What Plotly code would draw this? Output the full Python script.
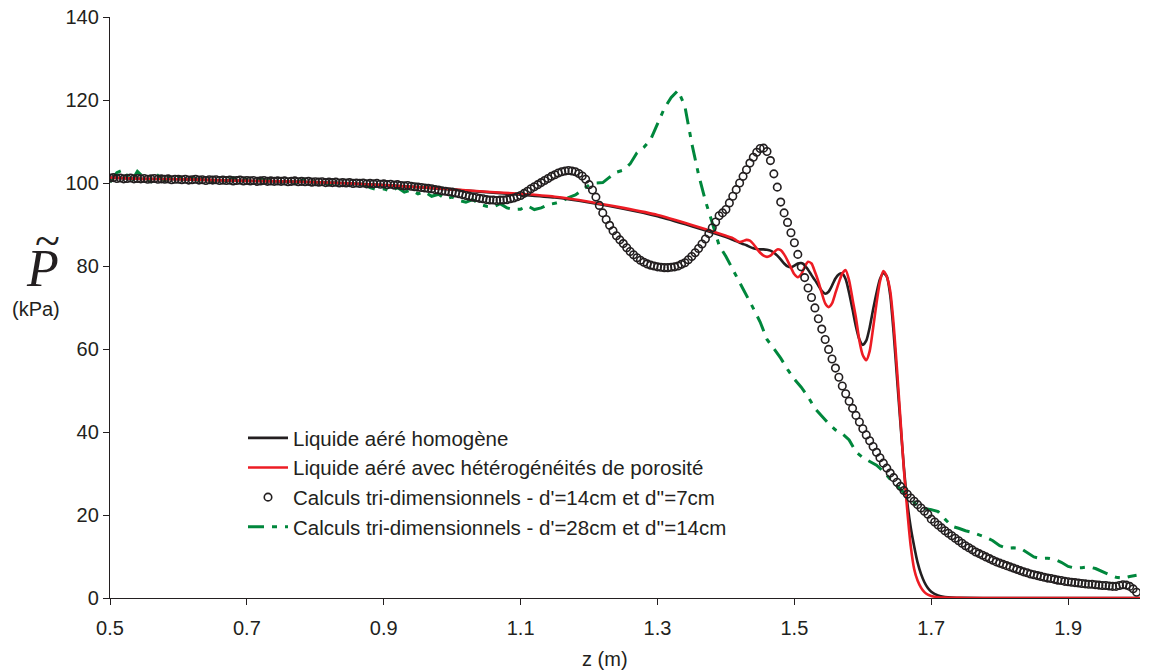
import plotly.graph_objects as go

# ---------------- data ----------------
# Model lines: sample positions along z (m)
z_line = [0.50, 0.55, 0.60, 0.65, 0.70, 0.75, 0.80, 0.85, 0.90, 0.95,
          1.00, 1.05, 1.10, 1.15, 1.20, 1.25, 1.30, 1.35,
          1.400, 1.405, 1.410, 1.415, 1.420, 1.425, 1.430, 1.435, 1.440, 1.445,
          1.450, 1.455, 1.460, 1.465, 1.470, 1.475, 1.480, 1.485, 1.490, 1.495,
          1.500, 1.505, 1.510, 1.515, 1.520, 1.525, 1.530, 1.535, 1.540, 1.545,
          1.550, 1.555, 1.560, 1.565, 1.570, 1.575, 1.580, 1.585, 1.590, 1.595,
          1.600, 1.605, 1.610, 1.615, 1.620, 1.625, 1.630, 1.635, 1.640, 1.645,
          1.650, 1.655, 1.660, 1.665, 1.670, 1.675, 1.680, 1.685, 1.690, 1.695,
          1.700, 1.710, 1.720, 1.730, 1.750, 1.800, 1.850, 1.900, 1.950, 2.005]

p_homogene = [101.3, 101.0, 100.9, 100.7, 100.5, 100.4, 100.2, 99.9, 99.5, 99.0,
              98.4, 97.8, 97.2, 96.5, 95.3, 93.8, 92.0, 89.6,
              87.0, 86.7, 86.3, 86.0, 85.6, 85.3, 85.0, 84.6, 84.3, 84.1,
              84.0, 84.0, 83.9, 83.7, 83.2, 82.5, 81.6, 80.6, 79.9, 79.7,
              80.1, 80.6, 80.7, 80.2, 79.1, 77.8, 76.6, 75.3, 74.0, 73.3,
              73.8, 75.3, 77.0, 78.0, 78.2, 76.8, 73.5, 69.5, 65.4, 62.3,
              61.0, 62.0, 65.2, 69.5, 73.5, 76.8, 78.3, 77.5, 73.0, 64.0,
              53.0, 42.0, 31.5, 23.0, 17.0, 12.5, 8.6, 5.8, 3.8, 2.4,
              1.5, 0.6, 0.25, 0.1, 0.03, 0.0, 0.0, 0.0, 0.0, 0.0]

p_heterogene = [101.3, 101.0, 100.9, 100.7, 100.5, 100.4, 100.2, 99.9, 99.5, 99.0,
                98.5, 97.9, 97.4, 96.7, 95.5, 94.0, 92.3, 89.9,
                87.3, 87.0, 86.7, 86.2, 85.8, 86.0, 86.3, 86.1, 85.3, 84.2,
                83.2, 82.5, 82.2, 82.5, 83.3, 84.0, 83.8, 82.8, 81.3, 79.6,
                78.0, 77.3, 78.0, 79.8, 81.0, 80.6, 78.6, 76.3, 73.5, 71.0,
                70.1, 71.0, 73.5, 76.0, 78.2, 79.0, 76.5, 72.0, 67.5, 62.0,
                58.5, 57.3, 59.5, 65.0, 71.0, 76.2, 78.8, 77.5, 74.0, 66.0,
                55.0, 43.0, 31.0, 21.0, 12.5, 7.0, 4.2, 2.5, 1.4, 0.8,
                0.5, 0.2, 0.1, 0.05, 0.0, 0.0, 0.0, 0.0, 0.0, 0.0]

# 3-D computation d'=14cm, d''=7cm : one value every 0.005 m from 0.5 to 2.0
z_3d_fin = [round(0.5 + 0.005 * i, 3) for i in range(301)]
p_3d_fin = [
    101.2, 101.3, 101.1, 101.2, 101.0, 101.1, 101.2, 101.0, 101.1, 101.0,
    101.1, 100.9, 101.0, 101.1, 100.9, 101.0, 100.9, 101.0, 100.8, 100.9,
    100.9, 100.8, 100.9, 100.7, 100.8, 100.9, 100.7, 100.8, 100.6, 100.8,
    100.7, 100.8, 100.6, 100.7, 100.6, 100.7, 100.5, 100.6, 100.7, 100.5,
    100.6, 100.5, 100.6, 100.4, 100.5, 100.6, 100.4, 100.5, 100.4, 100.5,
    100.4, 100.5, 100.3, 100.4, 100.5, 100.3, 100.4, 100.3, 100.4, 100.2,
    100.3, 100.2, 100.3, 100.1, 100.2, 100.1, 100.2, 100.0, 100.1, 100.0,
    100.1, 99.9, 100.0, 99.9, 100.0, 99.8, 99.9, 99.8, 99.9, 99.7,
    99.8, 99.6, 99.7, 99.5, 99.6, 99.4, 99.3, 99.4, 99.2, 99.1,
    99.0, 98.9, 98.8, 98.7, 98.6, 98.4, 98.3, 98.1, 98.0, 97.9,
    97.8, 97.6, 97.4, 97.2, 97.0, 96.8, 96.6, 96.5, 96.3, 96.2,
    96.0, 95.9, 95.9, 95.8, 95.9, 95.9, 96.0, 96.2, 96.4, 96.7,
    97.0, 97.5, 98.0, 98.6, 99.1, 99.6, 100.1, 100.6, 101.1, 101.6,
    102.0, 102.4, 102.7, 102.9, 103.0, 102.9, 102.7, 102.3, 101.7, 100.9,
    99.6, 98.3, 96.6, 94.6, 92.8, 91.2, 89.8, 88.5, 87.3, 86.3,
    85.4, 84.4, 83.5, 82.7, 82.0, 81.4, 80.9, 80.5, 80.2, 80.0,
    79.8, 79.7, 79.6, 79.6, 79.7, 79.8, 80.0, 80.4, 80.8, 81.5,
    82.3, 83.2, 84.2, 85.3, 86.5, 87.8, 89.2, 90.6, 92.1, 92.8,
    93.6, 95.2, 96.8, 98.4, 100.0, 101.6, 103.2, 104.8, 106.2, 107.4,
    108.3, 108.4, 107.6, 105.4, 102.2, 99.0, 95.4, 92.8, 90.5, 88.0,
    85.6, 82.8, 79.8, 77.2, 74.7, 72.4, 69.9, 67.3, 64.8, 62.3,
    59.9, 57.6, 55.4, 53.2, 51.1, 49.2, 47.4, 45.7, 44.0, 42.4,
    40.8, 39.3, 37.9, 36.5, 35.1, 33.8, 32.5, 31.3, 30.1, 29.0,
    27.9, 26.9, 25.9, 25.0, 24.1, 23.3, 22.5, 21.7, 20.9, 20.2,
    19.0, 18.3, 17.6, 16.9, 16.2, 15.6, 15.0, 14.4, 13.8, 13.2,
    12.6, 12.1, 11.6, 11.1, 10.7, 10.3, 9.9, 9.5, 9.1, 8.7,
    8.4, 8.1, 7.8, 7.5, 7.2, 6.9, 6.6, 6.3, 6.1, 5.8,
    5.6, 5.4, 5.2, 5.0, 4.8, 4.7, 4.5, 4.3, 4.2, 4.0,
    3.9, 3.8, 3.7, 3.6, 3.5, 3.4, 3.3, 3.3, 3.2, 3.1,
    3.0, 3.0, 2.9, 2.8, 2.8, 3.0, 3.2, 3.1, 2.8, 2.2,
    1.4]

# 3-D computation d'=28cm, d''=14cm : one value every 0.01 m from 0.5 to 2.0
z_3d_gros = [round(0.5 + 0.01 * i, 2) for i in range(151)]
p_3d_gros = [
    100.2, 102.5, 103.2, 100.0, 102.8, 101.2, 100.3, 101.8, 100.5, 101.9,
    101.5, 100.4, 101.2, 100.6, 101.5, 100.3, 101.0, 100.4, 101.3, 100.5,
    100.9, 100.2, 101.0, 100.5, 100.8, 100.2, 100.7, 100.1, 100.6, 101.2,
    100.0, 100.4, 99.7, 100.1, 99.6, 100.0, 99.4, 99.8, 98.9, 98.4,
    98.6, 98.0, 98.9, 97.8, 98.3, 97.4, 97.9, 96.8, 97.3, 96.2,
    96.6, 95.8, 95.4, 96.0, 94.9, 94.4, 94.2, 95.0, 94.0, 93.6,
    93.7, 94.5, 93.6, 94.0, 94.8, 95.1, 95.6, 96.5, 97.1, 98.3,
    99.5, 100.0, 100.1, 101.4, 102.6, 103.1, 104.6, 107.3, 108.6, 110.5,
    114.2, 118.0, 120.6, 122.3, 118.5, 109.6, 102.0, 95.7, 90.4, 85.0,
    82.3, 79.2, 76.0, 73.1, 69.8, 66.5, 62.3, 60.1, 57.8, 55.1,
    52.7, 50.8, 48.5, 45.7, 43.8, 42.0, 40.5, 39.6, 38.1, 35.2,
    33.8, 32.9, 32.0, 30.5, 28.6, 27.0, 25.3, 23.8, 22.2, 21.6,
    21.3, 20.8, 19.0, 17.3, 16.8, 16.2, 15.8, 15.2, 14.6, 13.8,
    12.6, 12.0, 12.1, 12.0, 11.0, 9.9, 9.5, 9.6, 9.3, 8.6,
    7.6, 7.2, 7.3, 7.5, 7.1, 6.3, 5.6, 5.0, 4.8, 5.2, 5.5]

x_tick_vals = [0.5, 0.7, 0.9, 1.1, 1.3, 1.5, 1.7, 1.9]
x_tick_text = ["0.5", "0.7", "0.9", "1.1", "1.3", "1.5", "1.7", "1.9"]
y_tick_vals = [0, 20, 40, 60, 80, 100, 120, 140]

names = ["Liquide aéré homogène",
         "Liquide aéré avec hétérogénéités de porosité",
         "Calculs tri-dimensionnels - d'=14cm et d''=7cm",
         "Calculs tri-dimensionnels - d'=28cm et d''=14cm"]

# ---------------- figure ----------------
INK = "#231f20"
RED = "#ed1c24"
GREEN = "#00873c"
FONT = "Liberation Sans, Arial, sans-serif"
SERIF = "Liberation Serif, Times New Roman, serif"

fig = go.Figure()

fig.add_trace(go.Scatter(
    x=z_3d_gros, y=p_3d_gros, mode="lines", name=names[3],
    line=dict(color=GREEN, width=3, dash="16px,8px,5px,8px"),
    legendrank=4))

fig.add_trace(go.Scatter(
    x=z_line, y=p_homogene, mode="lines", name=names[0],
    line=dict(color=INK, width=2.6, shape="spline", smoothing=0.6),
    legendrank=1))

fig.add_trace(go.Scatter(
    x=z_line, y=p_heterogene, mode="lines", name=names[1],
    line=dict(color=RED, width=2.6, shape="spline", smoothing=0.6),
    legendrank=2))

fig.add_trace(go.Scatter(
    x=z_3d_fin, y=p_3d_fin, mode="markers", name=names[2],
    marker=dict(symbol="circle-open", size=7.5, color=INK,
                line=dict(color=INK, width=1.6)),
    legendrank=3))

# page body has an 8px margin: the plot area should land on screen at
# x 110..1140 and y 17..598
OFF = 8
SX0, SX1, SY0, SY1 = 110, 1140, 17, 598
W, H = 1141, 664
L = SX0 - OFF
T = SY0 - OFF
pw, ph = SX1 - SX0, SY1 - SY0
R = W - L - pw
B = H - T - ph


def px_x(px):
    return (px - SX0) / pw


def px_y(py):
    return (SY1 - py) / ph


fig.update_layout(
    width=W, height=H,
    margin=dict(l=L, r=R, t=T, b=B, pad=0, autoexpand=False),
    paper_bgcolor="white", plot_bgcolor="white",
    font=dict(family=FONT, size=20, color=INK),
    showlegend=True,
    legend=dict(x=px_x(243), y=px_y(418), xanchor="left", yanchor="top",
                bgcolor="rgba(0,0,0,0)", borderwidth=0,
                font=dict(family=FONT, size=20.5, color=INK),
                tracegroupgap=0, itemwidth=40),
    xaxis=dict(range=[0.5, 2.005], showgrid=False, zeroline=False,
               automargin=False,
               showline=True, linecolor=INK, linewidth=1.3,
               ticks="outside", ticklen=6, tickwidth=1.3, tickcolor=INK,
               tickvals=x_tick_vals, ticktext=x_tick_text,
               ticklabelstandoff=6, ticklabeloverflow="allow",
               tickfont=dict(family=FONT, size=20, color=INK)),
    yaxis=dict(range=[0, 140], showgrid=False, zeroline=False,
               automargin=False,
               showline=True, linecolor=INK, linewidth=1.3,
               ticks="outside", ticklen=6, tickwidth=1.3, tickcolor=INK,
               tickvals=y_tick_vals, ticklabeloverflow="allow",
               tickfont=dict(family=FONT, size=20, color=INK)),
    annotations=[
        dict(text="z (m)", xref="paper", yref="paper",
             x=px_x(605), y=px_y(659), xanchor="center", yanchor="middle",
             showarrow=False, font=dict(family=FONT, size=20, color=INK)),
        dict(text="<i>P</i>", xref="paper", yref="paper",
             x=px_x(42), y=px_y(268), xanchor="center", yanchor="middle",
             showarrow=False, font=dict(family=SERIF, size=52, color=INK)),
        dict(text="~", xref="paper", yref="paper",
             x=px_x(47), y=px_y(240), xanchor="center", yanchor="middle",
             showarrow=False, font=dict(family=SERIF, size=46, color=INK)),
        dict(text="(kPa)", xref="paper", yref="paper",
             x=px_x(36), y=px_y(309), xanchor="center", yanchor="middle",
             showarrow=False, font=dict(family=FONT, size=20, color=INK)),
    ],
)

fig.write_html("out.html")
